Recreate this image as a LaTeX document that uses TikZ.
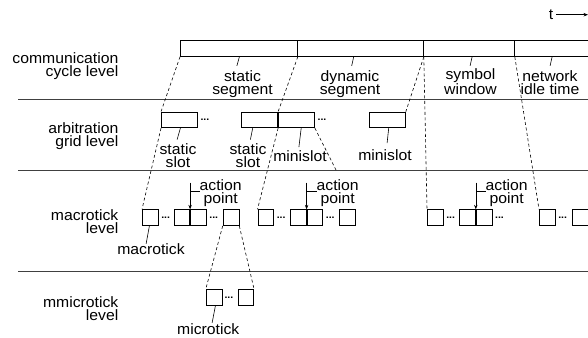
\documentclass[tikz,border=0pt]{standalone}
\usepackage{fontspec}
\setmainfont[FakeStretch=1.05]{Liberation Sans}
\usetikzlibrary{positioning,calc,arrows.meta}

\begin{document}
\begin{tikzpicture}[x=1pt,y=-1pt,
  font=\fontsize{15}{13}\selectfont,
  every node/.style={inner sep=0pt},
  segbox/.style={draw, line width=0.8pt, minimum height=15.7pt, anchor=north west},
  slotbox/.style={draw, line width=0.8pt, minimum width=36pt, minimum height=15.6pt, anchor=north west},
  mtbox/.style={draw, line width=0.8pt, minimum width=15.8pt, minimum height=15.8pt, anchor=north west},
  ellip/.style={font=\fontsize{10}{10}\selectfont\bfseries},
  lvl/.style={align=right, anchor=base east},
  lbl/.style={align=center, anchor=base},
  lead/.style={line width=0.6pt},
  proj/.style={dash pattern=on 3pt off 2.5pt, line width=0.6pt},
  sep/.style={line width=0.8pt, black!75},
  aptip/.style={line width=0.6pt, -{Stealth[length=4.5pt,width=3.5pt]}}]
\clip (0,0) rectangle (588,337);

% level separators and names
\draw[sep] (18.3,99.5) -- (588,99.5);
\draw[sep] (18.3,170.7) -- (588,170.7);
\draw[sep] (18.3,271) -- (588,271);
\node[lvl] (lvcom) at (118.5,76.5) {communication\\cycle level};
\node[lvl] (lvarb) at (118.5,146) {arbitration\\grid level};
\node[lvl] (lvmac) at (118.5,233.5) {macrotick\\level};
\node[lvl] (lvmic) at (118.5,320) {mmicrotick\\level};

% time axis
\node[inner sep=3pt, anchor=base] (tlbl) at (551,19.5) {t};
\coordinate (tend) at (588,15);
\draw[aptip] (tlbl.east) -- (tlbl.east -| tend);

% communication cycle
\node[segbox, minimum width=117pt] (stat) at (180,40.3) {};
\node[segbox, minimum width=126pt] (dyn) at (297,40.3) {};
\node[segbox, minimum width=91pt] (sym) at (423,40.3) {};
\node[segbox, minimum width=98pt] (net) at (514,40.3) {};
\node[lbl] (statlbl) at (242.5,94.5) {static\\segment};
\node[lbl] (dynlbl) at (350,94.5) {dynamic\\segment};
\node[lbl] (symlbl) at (470.5,94.5) {symbol\\window};
\node[lbl] (netlbl) at (550,94.5) {network\\idle time};
\draw[lead] ([xshift=0.5pt]stat.south) -- ++(-2.5,9);
\draw[lead] ([xshift=-6.7pt]dyn.south) -- ++(-2,9);
\draw[lead] ([xshift=3.2pt]sym.south) -- ++(-2,9);
\draw[lead] ([xshift=-11.3pt]net.south) -- ++(-2,9);

% arbitration grid
\node[slotbox] (ss1) at (161,111.7) {};
\node[ellip, right=2.5pt of ss1] (e1) {...};
\node[slotbox] (ss2) at (241.3,111.7) {};
\node[slotbox] (ms1) at (ss2.north east) {};
\node[ellip, right=2.5pt of ms1] (e2) {...};
\node[slotbox] (ms2) at (369,111.7) {};
\node[lbl] (ss1lbl) at (178,167.5) {static\\slot};
\node[lbl] (ss2lbl) at (248,167.5) {static\\slot};
\node[lbl] (ms1lbl) at (300,161.5) {minislot};
\node[lbl] (ms2lbl) at (385,160) {minislot};
\draw[lead] ([xshift=1pt]ss1.south) -- ++(-3.3,11.5);
\draw[lead] ([xshift=-7pt]ss2.south) -- ++(-2.3,11.5);
\draw[lead] ([xshift=4.7pt]ms1.south) -- ++(-2.3,19);
\draw[lead] ([xshift=1.3pt]ms2.south) -- ++(-1.6,15);

% macroticks
\node[mtbox] (mA) at (142,209.3) {};
\node[ellip, right=2.5pt of mA] (e3) {...};
\node[mtbox] (mB) at (173.5,209.3) {};
\node[mtbox] (mC) at (mB.north east) {};
\node[ellip, right=2.5pt of mC] (e4) {...};
\node[mtbox] (mD) at (222.7,209.3) {};
\node[mtbox] (mE) at (257.5,209.3) {};
\node[ellip, right=2.5pt of mE] (e5) {...};
\node[mtbox] (mF) at (290,209.3) {};
\node[mtbox] (mG) at (mF.north east) {};
\node[ellip, right=2.5pt of mG] (e6) {...};
\node[mtbox] (mH) at (339.2,209.3) {};
\node[mtbox] (mI) at (427,209.3) {};
\node[ellip, right=2.5pt of mI] (e7) {...};
\node[mtbox] (mJ) at (459.2,209.3) {};
\node[mtbox] (mK) at (mJ.north east) {};
\node[ellip, right=2.5pt of mK] (e8) {...};
\node[mtbox] (mL) at (539,209.3) {};
\node[ellip, right=2.5pt of mL] (e9) {...};
\node[mtbox] (mM) at (571.7,209.3) {};
\node[lbl] (mAlbl) at (151,254) {macrotick};
\draw[lead] ([xshift=-0.9pt]mA.south) -- ++(-3.3,18);

% action points
\node[lbl, anchor=base west] (ap1) at (199.5,203) {action\\point};
\node[lbl, anchor=base west] (ap2) at (316.5,203) {action\\point};
\node[lbl, anchor=base west] (ap3) at (485.5,203) {action\\point};
\draw[lead] ([yshift=1.5pt]ap1.west) -- ([yshift=1.5pt]ap1.west -| mB.north east);
\draw[aptip] ($(ap1.west -| mB.north east)+(0,-10)$) -- (mB.north east);
\draw[lead] ([yshift=1.5pt]ap2.west) -- ([yshift=1.5pt]ap2.west -| mF.north east);
\draw[aptip] ($(ap2.west -| mF.north east)+(0,-10)$) -- (mF.north east);
\draw[lead] ([yshift=1.5pt]ap3.west) -- ([yshift=1.5pt]ap3.west -| mJ.north east);
\draw[aptip] ($(ap3.west -| mJ.north east)+(0,-10)$) -- (mJ.north east);

% microticks
\node[mtbox] (mu1) at (205.7,289.3) {};
\node[ellip, right=2pt of mu1] (e10) {...};
\node[mtbox] (mu2) at (237.5,289.3) {};
\node[lbl] (mu1lbl) at (208.3,334) {microtick};
\draw[lead] ([xshift=1.4pt]mu1.south) -- ++(-3.3,17);

% projections between levels
\draw[proj] (stat.south west) -- (ss1.north west);
\draw[proj] (stat.south east) -- (ss2.north east);
\draw[proj] (dyn.south east) -- (ms2.north east);
\draw[proj] (dyn.south east) -- (mI.north west);
\draw[proj] (sym.south east) -- (mL.north west);
\draw[proj] (net.south east) -- (mM.north east);
\draw[proj] (ss1.south west) -- (mA.north west);
\draw[proj] (ss2.south east) -- (mE.north west);
\draw[proj] (ms1.south east) -- ($(ms1.south east)!0.527!(mH.north east)$);
\draw[proj] (mD.south west) -- (mu1.north west);
\draw[proj] (mD.south east) -- (mu2.north east);
\end{tikzpicture}
\end{document}
